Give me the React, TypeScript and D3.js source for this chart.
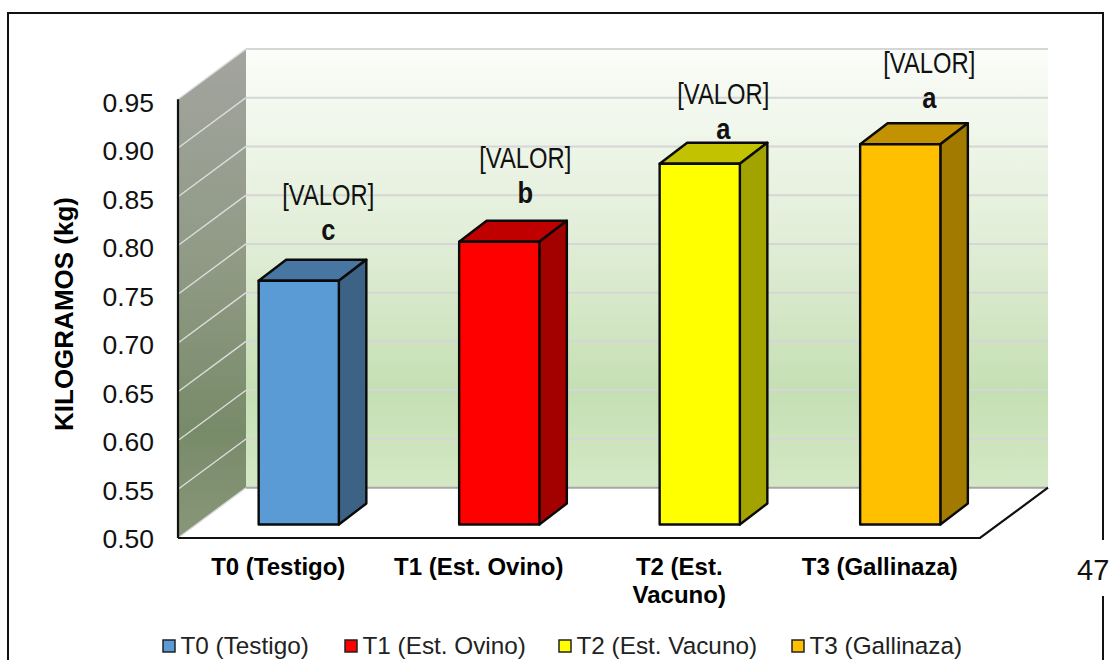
import React from "react";
import * as d3 from "d3";

const categories = ["T0 (Testigo)", "T1 (Est. Ovino)", "T2 (Est. Vacuno)", "T3 (Gallinaza)"];
const axisLabels = [["T0 (Testigo)"], ["T1 (Est. Ovino)"], ["T2 (Est.", "Vacuno)"], ["T3 (Gallinaza)"]];
const values = [0.75, 0.79, 0.87, 0.89];
const letters = ["c", "b", "a", "a"];
const valueLabel = "[VALOR]";
const ticks = [0.5, 0.55, 0.6, 0.65, 0.7, 0.75, 0.8, 0.85, 0.9, 0.95];
const front = ["#5B9BD5", "#FF0000", "#FFFF00", "#FFC000"];
const topFace = ["#4676A1", "#C00000", "#C2C200", "#C29200"];
const sideFace = ["#3C6385", "#A30000", "#A3A300", "#A37A00"];

// hand-placed data labels, as offsets from the top of each bar
const labelOffsetX = [29.5, 26, 23.5, 29];
const labelOffsetY = [-75.5, -73.5, -60, -71];
const legendX = [163, 345, 559, 792];

const W = 1110, H = 660;
const x0 = 178, x1 = 980, yBase = 538, yTop = 99.2;
const depthX = 68, depthY = -50.3;
const font = "'Liberation Sans', Arial, sans-serif";

export default function App() {
  const y = d3.scaleLinear().domain([0.5, 0.95]).range([yBase, yTop]);
  const yLabel = d3.scaleLinear().domain([0.5, 0.95]).range([548, 111.5]);
  const x = d3.scaleBand<number>().domain(d3.range(4)).range([x0, x1]).paddingInner(0.6).paddingOuter(0.3);
  const barDX = 20.5, barDY = -13.5, sideDX = 27.5, sideDY = -21;
  const path = d3.line();
  const poly = (pts: [number, number][]) => path(pts) + "Z";
  return (
    <svg width={W} height={H} style={{ position: "absolute", left: 0, top: 0, background: "#fff" }} fontFamily={font}>
      <defs>
        <linearGradient id="back" x1="0" y1="0" x2="0" y2="1">
          <stop offset="0" stopColor="#FBFDF9" />
          <stop offset="0.45" stopColor="#E0EDD6" />
          <stop offset="0.78" stopColor="#C5DFB4" />
          <stop offset="1" stopColor="#D4E8C5" />
        </linearGradient>
        <linearGradient id="side" x1="0" y1="0" x2="0" y2="1">
          <stop offset="0" stopColor="#A3A49F" />
          <stop offset="0.45" stopColor="#8F9A84" />
          <stop offset="0.78" stopColor="#788B69" />
          <stop offset="1" stopColor="#889779" />
        </linearGradient>
      </defs>
      {/* page frame */}
      <path d={`M8,660V13H1103V540`} fill="none" stroke="#111" strokeWidth={2} />
      <path d={`M1103,596V660`} fill="none" stroke="#111" strokeWidth={2} />
      {/* walls */}
      <path d={poly([[x0 + depthX, y(0.95) + depthY], [x1 + depthX, y(0.95) + depthY], [x1 + depthX, yBase + depthY], [x0 + depthX, yBase + depthY]])} fill="url(#back)" />
      <path d={poly([[x0, y(0.95)], [x0 + depthX, y(0.95) + depthY], [x0 + depthX, yBase + depthY], [x0, yBase]])} fill="url(#side)" />
      {/* gridlines */}
      {ticks.map((t) => t > 0.5 && (
        <g key={t}>
          <line x1={x0 + depthX} x2={x1 + depthX} y1={y(t) + depthY} y2={y(t) + depthY} stroke="#D6D6D6" strokeWidth={2} />
          <line x1={x0} x2={x0 + depthX} y1={y(t)} y2={y(t) + depthY} stroke="#DDDDDD" strokeWidth={1.4} />
        </g>
      ))}
      <line x1={x0 + depthX} x2={x1 + depthX} y1={yBase + depthY} y2={yBase + depthY} stroke="#A6A6A6" strokeWidth={2} />
      <line x1={x0} x2={x0 + depthX} y1={yBase} y2={yBase + depthY} stroke="#D9D9D9" strokeWidth={1.4} />
      {/* axes */}
      <line x1={x0} x2={x0} y1={y(0.95)} y2={yBase} stroke="#111" strokeWidth={2.2} />
      <path d={`M${x0},${yBase}H${x1}L${x1 + depthX},${yBase + depthY}`} fill="none" stroke="#111" strokeWidth={2.2} />
      {/* y tick labels */}
      {ticks.map((t) => (
        <text key={t} x={154} y={yLabel(t)} textAnchor="end" fontSize={26.5} fill="#111">{t.toFixed(2)}</text>
      ))}
      <text transform="translate(73,314) rotate(-90)" textAnchor="middle" fontSize={26} fontWeight="bold" fill="#000">KILOGRAMOS (kg)</text>
      {/* bars */}
      {values.map((v, i) => {
        const bx = x(i)! + barDX;
        const bw = x.bandwidth();
        const top = y(v) + barDY;
        const bot = y(0.5) + barDY;
        const cx = bx + bw / 2 + labelOffsetX[i];
        const by = top + labelOffsetY[i];
        return (
          <g key={i} stroke="#0A0A0A" strokeWidth={2.4} strokeLinejoin="round">
            <path d={poly([[bx, top], [bx + sideDX, top + sideDY], [bx + bw + sideDX, top + sideDY], [bx + bw, top]])} fill={topFace[i]} />
            <path d={poly([[bx + bw, top], [bx + bw + sideDX, top + sideDY], [bx + bw + sideDX, bot + sideDY], [bx + bw, bot]])} fill={sideFace[i]} />
            <rect x={bx} y={top} width={bw} height={bot - top} fill={front[i]} />
            <g stroke="none" fill="#111" textAnchor="middle">
              <text x={cx} y={by} fontSize={30} textLength={92} lengthAdjust="spacingAndGlyphs">{valueLabel}</text>
              <text transform={`translate(${cx},${by + 35}) scale(0.85,1)`} fontSize={30} fontWeight="bold">{letters[i]}</text>
            </g>
          </g>
        );
      })}
      {/* category labels */}
      {axisLabels.map((lines, i) => (
        <text key={i} textAnchor="middle" fontSize={24} fontWeight="bold" fill="#000">
          {lines.map((l, j) => (
            <tspan key={j} x={x(i)! + x.bandwidth() / 2} y={575 + j * 28}>{l}</tspan>
          ))}
        </text>
      ))}
      {/* page number */}
      <text x={1077} y={580} fontSize={29} fill="#111">47</text>
      {/* legend */}
      {categories.map((c, i) => {
        const lx = legendX[i];
        return (
          <g key={c}>
            <rect x={lx} y={640} width={12} height={12} fill={front[i]} stroke="#222" strokeWidth={1.5} />
            <text x={lx + 17.5} y={654} fontSize={24.3} fill="#222">{c}</text>
          </g>
        );
      })}
    </svg>
  );
}
